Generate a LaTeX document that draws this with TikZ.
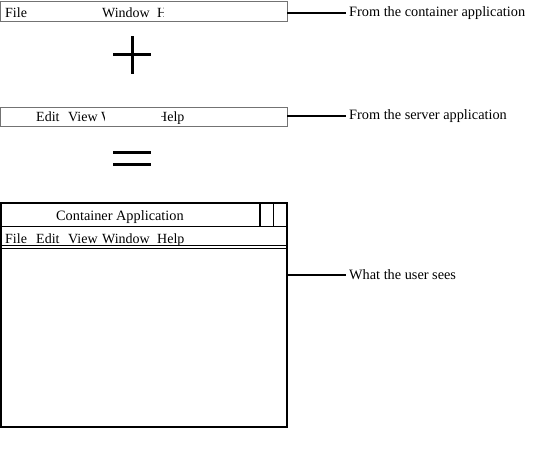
\documentclass[tikz,border=0pt]{standalone}
\usepackage{fontspec}
\setmainfont{Liberation Serif}
\begin{document}
\begin{tikzpicture}[x=1pt,y=-1pt,
  bar/.style={draw=black!55,line width=0.9pt},
  conn/.style={draw=black,line width=1.4pt},
  word/.style={inner sep=0pt,anchor=base west,font=\fontsize{14}{16}\selectfont},
  lab/.style={inner sep=0pt,anchor=west,font=\fontsize{14.3}{16}\selectfont},
  sym/.style={line width=3pt}]
\useasboundingbox (0,0) rectangle (546,455);
% bar 1
\draw[bar] (0.5,1) rectangle (287,21);
\coordinate (b1) at (287,13);
\node[word] at (5,17) {File};
\node[word] at (102,17) {Window};
\begin{scope}
\clip (150,0) rectangle (163.5,22);
\node[word] at (157,17) {Help};
\end{scope}
\node[lab] (l1) at (349,13) {From the container application};
\draw[conn] (b1) -- ([xshift=-3pt]l1.west);
% plus
\draw[sym] (113,54) -- (151,54);
\draw[sym] (132,36) -- (132,74);
% bar 2
\draw[bar] (0.5,107) rectangle (287,126);
\coordinate (b2) at (287,116);
\node[word] at (36,121) {Edit};
\node[word] at (68,121) {View};
\begin{scope}
\clip (100,100) rectangle (104,128);
\node[word] at (101,121) {Window};
\end{scope}
\begin{scope}
\clip (161,100) rectangle (200,128);
\node[word] at (157,121) {Help};
\end{scope}
\node[lab] (l2) at (349,116) {From the server application};
\draw[conn] (b2) -- ([xshift=-3pt]l2.west);
% equals
\draw[sym] (113,152) -- (151,152);
\draw[sym] (113,164) -- (151,164);
% window
\draw[line width=2pt] (1,203) rectangle (287,427);
\draw[line width=1.2pt] (1,226.5) -- (287,226.5);
\draw[line width=1.2pt] (260,203) -- (260,226.5);
\draw[line width=1.2pt] (273.5,203) -- (273.5,226.5);
\node[word,font=\fontsize{14.3}{16}\selectfont] (title) at (56,220) {Container Application};
\node[word] at (5,243) {File};
\node[word] at (36,243) {Edit};
\node[word] at (68,243) {View};
\node[word] at (102,243) {Window};
\node[word] at (157,243) {Help};
\draw[line width=0.8pt] (1,245.5) -- (287,245.5);
\draw[line width=0.8pt] (1,248.5) -- (287,248.5);
\coordinate (b3) at (288,275);
\node[lab] (l3) at (349,275) {What the user sees};
\draw[conn] (b3) -- ([xshift=-3pt]l3.west);
\end{tikzpicture}
\end{document}
